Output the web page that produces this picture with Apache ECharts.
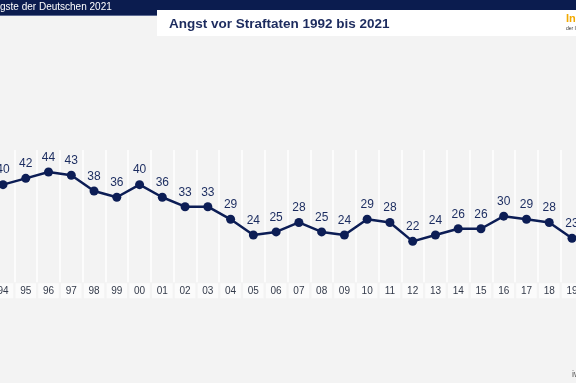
<!DOCTYPE html>
<html>
<head>
<meta charset="utf-8">
<script src="https://cdn.jsdelivr.net/npm/echarts@6/dist/echarts.min.js"></script>
<style>
html,body{margin:0;padding:0;background:#f3f3f3;}
#c{width:576px;height:383px;}
</style>
</head>
<body>
<div id="c"></div>
<script>
// Categories (years 1992–2021, shown as two-digit labels)
const years = ['92','93','94','95','96','97','98','99','00','01','02','03','04','05','06','07','08','09','10','11','12','13','14','15','16','17','18','19','20','21'];
// Values; years outside the visible crop are unknown
const angst = [null,null,40,42,44,43,38,36,40,36,33,33,29,24,25,28,25,24,29,28,22,24,26,26,30,29,28,23,null,null];

const titleText = 'Angst vor Straftaten 1992 bis 2021';
const bannerText = 'Die Ängste der Deutschen 2021';

const chart = echarts.init(document.getElementById('c'), null, {renderer:'canvas'});
const FONT = '"Liberation Sans", Arial, sans-serif';
chart.setOption({
  backgroundColor:'#f3f3f3',
  animation:false,
  textStyle:{fontFamily:FONT},
  grid:{left:-53.9, width:682.8, top:150, height:132.3, containLabel:false, outerBoundsMode:'none'},
  xAxis:{
    type:'category', data:years, boundaryGap:true,
    axisLine:{show:false}, axisTick:{show:false},
    splitLine:{show:true, interval:0, lineStyle:{color:'#ffffff', width:1.5}},
    axisLabel:{interval:0, fontSize:10, color:'#333a4a', margin:1,
      backgroundColor:'#fbfbfb', width:20.5, height:15, lineHeight:15, align:'center', fontFamily:FONT}
  },
  yAxis:{type:'value', min:9, max:51, show:false, splitLine:{show:false}},
  series:[{
    type:'line', data:angst, connectNulls:false,
    symbol:'circle', symbolSize:9,
    lineStyle:{color:'#0c1d55', width:2.5},
    itemStyle:{color:'#0c1d55'},
    label:{show:true, position:'top', distance:4, fontSize:12, color:'#1a2b5f', fontFamily:FONT}
  }],
  graphic:[
    {type:'rect', shape:{x:0,y:0,width:576,height:15}, style:{fill:'#0b1c4f'}},
    {type:'rect', shape:{x:0,y:15,width:576,height:1}, style:{fill:'#5d6a93'}},
    {type:'text', x:-30, y:7.5, style:{text:bannerText, fill:'#ffffff', fontSize:10, fontFamily:FONT, verticalAlign:'middle'}},
    {type:'rect', shape:{x:157,y:10,width:419,height:26}, style:{fill:'#ffffff'}},
    {type:'text', x:169, y:24, style:{text:titleText, fill:'#1c2b5e', fontSize:13.5, fontWeight:'bold', fontFamily:FONT, verticalAlign:'middle'}},
    {type:'text', x:566, y:19, style:{text:'In', fill:'#f2a900', fontSize:11, fontWeight:'bold', fontFamily:FONT, verticalAlign:'middle'}},
    {type:'text', x:566, y:29, style:{text:'der I', fill:'#333333', fontSize:5, fontFamily:FONT, verticalAlign:'middle'}},
    {type:'text', x:572, y:375, style:{text:'iwd', fill:'#555555', fontSize:9, fontFamily:FONT, verticalAlign:'middle'}}
  ]
});
</script>
</body>
</html>
